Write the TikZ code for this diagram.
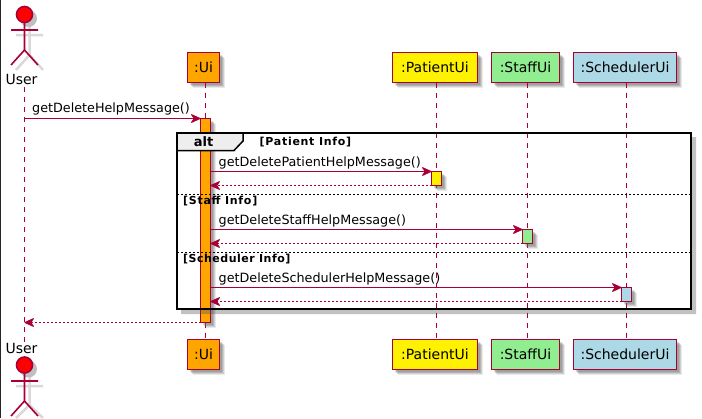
\documentclass[tikz,border=0pt]{standalone}
\usepackage{fontspec}
\setmainfont{DejaVu Sans}
\usetikzlibrary{arrows.meta}
\definecolor{umlline}{HTML}{A80036}
\definecolor{umlorange}{HTML}{FFA500}
\definecolor{umlgreen}{HTML}{90EE90}
\definecolor{umlblue}{HTML}{ADD8E6}
\definecolor{framegray}{HTML}{EEEEEE}
\newcommand{\softbox}[4]{%
  \fill[black!60,opacity=.14] (#1+5.5,#2+5.5) rectangle (#3+5.5,#4+5.5);
  \fill[black!60,opacity=.2] (#1+4.5,#2+4.5) rectangle (#3+4.5,#4+4.5);
  \fill[black!60,opacity=.26] (#1+3.5,#2+3.5) rectangle (#3+3.5,#4+3.5);
  \fill[black!60,opacity=.26] (#1+2.5,#2+2.5) rectangle (#3+2.5,#4+2.5);
}
\tikzset{
  participant/.style={draw=umlline,line width=1.8pt,rectangle,inner sep=0pt,outer sep=0pt,
    minimum height=30pt,text=black,font=\fontsize{14}{16}\selectfont},
  activation/.style={draw=umlline,line width=1.2pt,rectangle,inner sep=0pt,outer sep=0pt,
    minimum width=10pt},
  lifeline/.style={draw=umlline,line width=1pt,dash pattern=on 5pt off 5pt},
  msg/.style={draw=umlline,line width=1pt,-{Stealth[length=11pt,width=10pt,inset=3.5pt,round]}},
  ret/.style={msg,dash pattern=on 2pt off 2pt},
  msgtext/.style={anchor=west,inner sep=0pt,text=black,font=\fontsize{12.75}{15}\selectfont},
  guard/.style={anchor=west,inner sep=0pt,text=black,font=\fontsize{11}{13}\selectfont\bfseries\addfontfeature{LetterSpace=6.5}},
  actorname/.style={inner sep=0pt,text=black,font=\fontsize{14}{16}\selectfont},
  stick/.style={draw=umlline,line width=1.6pt},
  stickshadow/.style={draw=black!15,line width=2.5pt},
  head/.style={circle,draw=umlline,fill=red,line width=1.6pt,inner sep=0pt,outer sep=0pt,minimum size=16pt},
  headshadow/.style={circle,fill=black!25,inner sep=0pt,minimum size=17pt},
}
\begin{document}
\begin{tikzpicture}[x=1pt,y=-1pt]
\useasboundingbox (0,0) rectangle (702,418);
\fill[black!85] (0,0) rectangle (1,418);

% lifeline anchors
\coordinate (usertop) at (24.5,87);
\coordinate (userbot) at (24.5,342);

% actors
\draw[stickshadow] (29.5,20) -- (29.5,55) (16,35) -- (43,35) (29.5,55) -- (16,70) (29.5,55) -- (43,70);
\node[headshadow] (hs1) at (28.5,18.5) {};
\node[head] (userhead) at (24.5,14.5) {};
\draw[stick] (userhead.south) -- (24.5,50) (11,30) -- (38,30) (24.5,50) -- (11,65) (24.5,50) -- (38,65);
\draw[stickshadow] (29.5,375) -- (29.5,405) (16,386) -- (43,386) (29.5,405) -- (16,418) (29.5,405) -- (43,418);
\node[headshadow] (hs2) at (28.5,369) {};
\node[head] (userheadb) at (24.5,365) {};
\draw[stick] (userheadb.south) -- (24.5,401) (11,381) -- (38,381) (24.5,401) -- (11,416) (24.5,401) -- (38,416);
\node[actorname] (usertxt) at (21.5,79) {User};
\node[actorname] (usertxtb) at (21.5,348) {User};

% shadows of participants
\softbox{187.5}{52.5}{219.5}{82.5}
\softbox{392.5}{52.5}{477.5}{82.5}
\softbox{491.5}{52.5}{559.5}{82.5}
\softbox{573.5}{52.5}{676.5}{82.5}
\softbox{187.5}{339.5}{219.5}{369.5}
\softbox{392.5}{339.5}{477.5}{369.5}
\softbox{491.5}{339.5}{559.5}{369.5}
\softbox{573.5}{339.5}{676.5}{369.5}

% participants
\node[participant,fill=umlorange,minimum width=32pt] (ui) at (203.5,67.5) {:Ui};
\node[participant,fill=yellow,minimum width=85pt] (pa) at (435,67.5) {:PatientUi};
\node[participant,fill=umlgreen,minimum width=68pt] (st) at (525.5,67.5) {:StaffUi};
\node[participant,fill=umlblue,minimum width=103pt] (sc) at (625,67.5) {:SchedulerUi};
\node[participant,fill=umlorange,minimum width=32pt] (uib) at (203.5,354.5) {:Ui};
\node[participant,fill=yellow,minimum width=85pt] (pab) at (435,354.5) {:PatientUi};
\node[participant,fill=umlgreen,minimum width=68pt] (stb) at (525.5,354.5) {:StaffUi};
\node[participant,fill=umlblue,minimum width=103pt] (scb) at (625,354.5) {:SchedulerUi};

% lifelines
\coordinate (uiT) at (205.5,82.5);
\coordinate (uiB) at (205.5,339.5);
\coordinate (paT) at (436.5,82.5);
\coordinate (paB) at (436.5,339.5);
\coordinate (stT) at (527.5,82.5);
\coordinate (stB) at (527.5,339.5);
\coordinate (scT) at (626.5,82.5);
\coordinate (scB) at (626.5,339.5);
\draw[lifeline] (usertop) -- (userbot);
\draw[lifeline] (uiT) -- (uiB);
\draw[lifeline] (paT) -- (paB);
\draw[lifeline] (stT) -- (stB);
\draw[lifeline] (scT) -- (scB);

% activations
\softbox{200.5}{118.5}{210.5}{322.5}
\softbox{431.5}{171.5}{441.5}{185.5}
\softbox{522.5}{229.5}{532.5}{243.5}
\softbox{621.5}{287.5}{631.5}{301.5}
\node[activation,fill=umlorange,minimum height=204pt] (uiact) at (205.5,220.5) {};
\node[activation,fill=yellow,minimum height=14pt] (paact) at (436.5,178.5) {};
\node[activation,fill=umlgreen,minimum height=14pt] (stact) at (527.5,236.5) {};
\node[activation,fill=umlblue,minimum height=14pt] (scact) at (626.5,294.5) {};

% alt frame
\fill[black!70,opacity=.35] (692,137) rectangle (696,314) (181,310) rectangle (692,314);
\filldraw[draw=black,fill=framegray,line width=1.5pt] (177,133) -- (243,133) -- (243,141) -- (234,150.5) -- (177,150.5) -- cycle;
\draw[black,line width=2.4pt] (177,133) rectangle (691,309);
\node[inner sep=0pt,font=\fontsize{13}{15}\selectfont\bfseries] (altlbl) at (203.5,142) {alt};
\node[guard] (g1) at (259.5,142.5) {[Patient Info]};
\draw[black,line width=1pt,dash pattern=on 2pt off 2pt] (177,194) coordinate (s1) -- (691,194);
\node[guard] (g2) at (183,201) {[Staff Info]};
\draw[black,line width=1pt,dash pattern=on 2pt off 2pt] (177,252) coordinate (s2) -- (691,252);
\node[guard,font=\fontsize{11}{13}\selectfont\bfseries\addfontfeature{LetterSpace=4.5}] (g3) at (183,259) {[Scheduler Info]};

% messages
\draw[msg] (usertop|-uiact.north) -- (uiact.north west);
\node[msgtext] (t1) at (32,108.7) {getDeleteHelpMessage()};
\draw[msg] (uiact.east|-paact.north) -- (paact.north west);
\node[msgtext] (t2) at (218.5,162.7) {getDeletePatientHelpMessage()};
\draw[ret] (paact.south west) -- (uiact.east|-paact.south);
\draw[msg] (uiact.east|-stact.north) -- (stact.north west);
\node[msgtext] (t3) at (218.5,220.7) {getDeleteStaffHelpMessage()};
\draw[ret] (stact.south west) -- (uiact.east|-stact.south);
\draw[msg] (uiact.east|-scact.north) -- (scact.north west);
\node[msgtext] (t4) at (218.5,278.7) {getDeleteSchedulerHelpMessage()};
\draw[ret] (scact.south west) -- (uiact.east|-scact.south);
\draw[ret] (uiact.south west) -- (usertop|-uiact.south);
\end{tikzpicture}
\end{document}
